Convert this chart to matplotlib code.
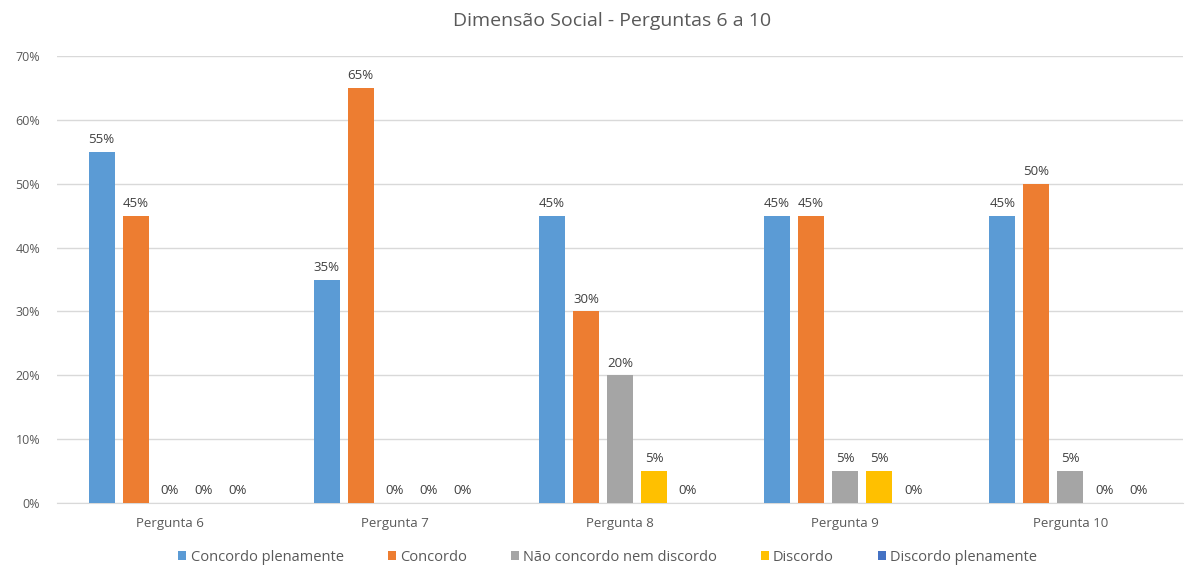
import matplotlib
matplotlib.use("Agg")
import matplotlib.pyplot as plt
import numpy as np

categories = ["Pergunta 6", "Pergunta 7", "Pergunta 8", "Pergunta 9", "Pergunta 10"]
series_names = ["Concordo plenamente", "Concordo", "Não concordo nem discordo", "Discordo", "Discordo plenamente"]
concordo_plenamente = [55, 35, 45, 45, 45]
concordo = [45, 65, 30, 45, 50]
nao_concordo = [0, 0, 20, 5, 5]
discordo = [0, 0, 5, 5, 0]
discordo_plenamente = [0, 0, 0, 0, 0]
values = [concordo_plenamente, concordo, nao_concordo, discordo, discordo_plenamente]
colors = ["#5B9BD5", "#ED7D31", "#A5A5A5", "#FFC000", "#4472C4"]

plt.rcParams['font.family'] = ['Open Sans', 'DejaVu Sans']
fig = plt.figure(figsize=(11.87, 5.65), dpi=100)
ax = fig.add_axes([0.048, 0.1097, 0.9486, 0.7912])

x = np.arange(len(categories))
step = 0.151
width = 0.116
for i, (name, vals, c) in enumerate(zip(series_names, values, colors)):
    pos = x + (i - 2) * step
    ax.bar(pos, vals, width=width, color=c, label=name, zorder=3)
    for p, v in zip(pos, vals):
        ax.text(p, v + 0.9, f"{v}%", ha="center", va="bottom", fontsize=9.5, color="#404040")

ax.set_xlim(-0.5, 4.5)
ax.set_ylim(0, 70)
ax.set_yticks(range(0, 71, 10))
ax.set_yticklabels([f"{t}%" for t in range(0, 71, 10)], fontsize=9, color="#595959")
ax.set_xticks(x)
ax.set_xticklabels(categories, fontsize=9.5, color="#595959")
ax.grid(axis="y", color="#D9D9D9", linewidth=1, zorder=0)
for s in ["top", "right", "left"]:
    ax.spines[s].set_visible(False)
ax.spines["bottom"].set_color("#D9D9D9")
ax.tick_params(axis="both", length=0)
ax.tick_params(axis="x", pad=10)
ax.tick_params(axis="y", pad=12)

fig.text(0.516, 0.962, "Dimensão Social - Perguntas 6 a 10", ha="center", va="center",
         fontsize=14, color="#595959")

leg = fig.legend(loc="center", bbox_to_anchor=(0.512, 0.014), ncol=5, frameon=False,
                 fontsize=10.5, handlelength=0.55, handleheight=0.55, handletextpad=0.3,
                 columnspacing=3.0)
for t in leg.get_texts():
    t.set_color("#595959")

fig.savefig("out.png", dpi=100)
